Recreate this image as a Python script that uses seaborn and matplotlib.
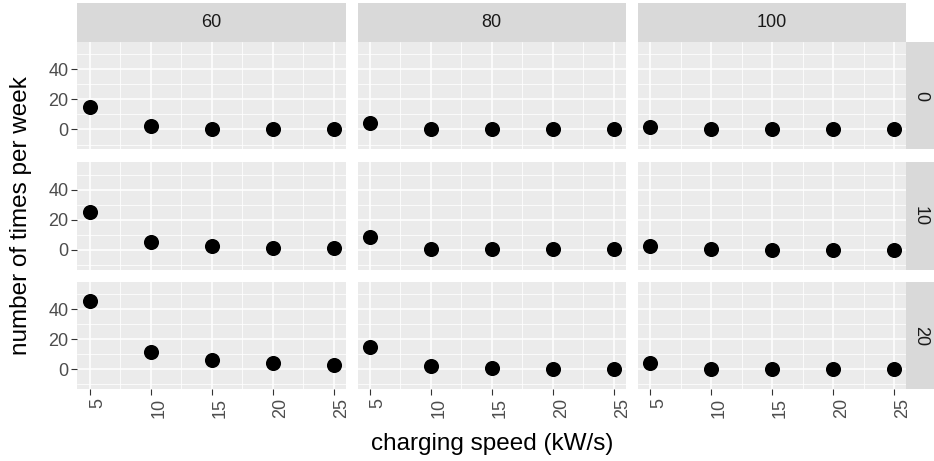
import numpy as np
import pandas as pd
import seaborn as sns
import matplotlib
matplotlib.use("Agg")
import matplotlib.pyplot as plt
from matplotlib.patches import Rectangle
from matplotlib.ticker import FixedLocator

# ---- data -------------------------------------------------------------
speeds = [5, 10, 15, 20, 25]
col_levels = [60, 80, 100]
row_levels = [0, 10, 20]

times_60_0 = [15.0, 2.0, 0.5, 0.3, 0.3]
times_60_10 = [25.0, 5.3, 2.2, 0.9, 0.9]
times_60_20 = [45.5, 11.5, 6.0, 4.0, 3.0]
times_80_0 = [4.5, 0.3, 0.2, 0.1, 0.1]
times_80_10 = [8.3, 0.6, 0.3, 0.2, 0.2]
times_80_20 = [15.0, 2.0, 0.6, 0.3, 0.5]
times_100_0 = [1.4, 0.1, 0.1, 0.1, 0.1]
times_100_10 = [2.2, 0.2, 0.1, 0.1, 0.1]
times_100_20 = [4.0, 0.4, 0.2, 0.1, 0.1]

series = {
    (60, 0): times_60_0, (60, 10): times_60_10, (60, 20): times_60_20,
    (80, 0): times_80_0, (80, 10): times_80_10, (80, 20): times_80_20,
    (100, 0): times_100_0, (100, 10): times_100_10, (100, 20): times_100_20,
}

x_ticks = [5, 10, 15, 20, 25]
y_ticks = [0, 20, 40]

rows = []
for (c, r), vals in series.items():
    for s, v in zip(speeds, vals):
        rows.append({"col": c, "row": r, "speed": s, "times": v})
df = pd.DataFrame(rows)

# ---- styling ------------------------------------------------------------
sns.set_theme(style="white")
plt.rcParams["font.family"] = ["Liberation Sans", "DejaVu Sans"]

W, H = 934, 461
DPI = 100

g = sns.FacetGrid(df, row="row", col="col", row_order=row_levels,
                  col_order=col_levels, sharex=True, sharey=True,
                  height=1.5, aspect=2.0, despine=False)
g.map_dataframe(sns.scatterplot, x="speed", y="times", color="black",
                s=118, linewidth=0, zorder=3)
fig = g.figure
fig.set_size_inches(W / DPI, H / DPI)
fig.set_dpi(DPI)

# panel geometry in pixels
col_left = [77.3, 357.5, 637.8]
panel_w = 268.5
row_top = [42.0, 162.2, 281.9]
panel_h = 107.4

tick_col = "#333333"
label_col = "#4D4D4D"
strip_col = "#D9D9D9"
strip_txt = "#1A1A1A"
tick_fs = 13

for i, r in enumerate(row_levels):
    for j, c in enumerate(col_levels):
        ax = g.axes[i, j]
        x0 = col_left[j] / W
        y0 = 1 - (row_top[i] + panel_h) / H
        ax.set_position([x0, y0, panel_w / W, panel_h / H])
        ax.set_facecolor("#EBEBEB")
        for sp in ax.spines.values():
            sp.set_visible(False)
        ax.set_xlim(4, 26)
        ax.set_ylim(-13.25, 58.25)
        ax.xaxis.set_major_locator(FixedLocator(x_ticks))
        ax.yaxis.set_major_locator(FixedLocator(y_ticks))
        ax.xaxis.set_minor_locator(FixedLocator([7.5, 12.5, 17.5, 22.5]))
        ax.yaxis.set_minor_locator(FixedLocator([-10, 10, 30, 50]))
        ax.grid(which="major", color="white", linewidth=1.15, zorder=0)
        ax.grid(which="minor", color="white", linewidth=0.55, zorder=0)
        ax.set_axisbelow(True)
        ax.tick_params(which="minor", length=0)
        ax.tick_params(which="major", length=4.3, width=0.8, color=tick_col,
                       labelcolor=label_col, labelsize=tick_fs, pad=2.0)
        ax.set_xlabel("")
        ax.set_ylabel("")
        ax.set_title("")
        if j == 0:
            ax.tick_params(axis="y", left=True, labelleft=True)
        else:
            ax.tick_params(axis="y", left=False, labelleft=False)
        if i == len(row_levels) - 1:
            ax.tick_params(axis="x", bottom=True, labelbottom=True,
                           labelrotation=90)
            for lab in ax.get_xticklabels():
                lab.set_va("top")
                lab.set_ha("left")
        else:
            ax.tick_params(axis="x", bottom=False, labelbottom=False)

        # column strips on top row
        if i == 0:
            sh = 38.7
            ax.add_patch(Rectangle((0, 1), 1, sh / panel_h,
                                   transform=ax.transAxes, facecolor=strip_col,
                                   edgecolor="none", clip_on=False))
            ax.text(0.5, 1 + sh / 2 / panel_h, str(c), transform=ax.transAxes,
                    ha="center", va="center", fontsize=tick_fs, color=strip_txt)
        # row strips on right column
        if j == len(col_levels) - 1:
            sw = 28.0
            ax.add_patch(Rectangle((1, 0), sw / panel_w, 1,
                                   transform=ax.transAxes, facecolor=strip_col,
                                   edgecolor="none", clip_on=False))
            ax.text(1 + sw / 2 / panel_w, 0.5, str(r), transform=ax.transAxes,
                    ha="center", va="center", rotation=-90,
                    fontsize=tick_fs, color=strip_txt)

fig.text((357.5 + panel_w / 2) / W, 1 - 444 / H, "charging speed (kW/s)",
         ha="center", va="center", fontsize=17.5, color="black")
fig.text(21 / W, 1 - 215.6 / H, "number of times per week",
         ha="center", va="center", rotation=90, fontsize=17.5, color="black")

fig.savefig("out.png", dpi=DPI, facecolor="white")
